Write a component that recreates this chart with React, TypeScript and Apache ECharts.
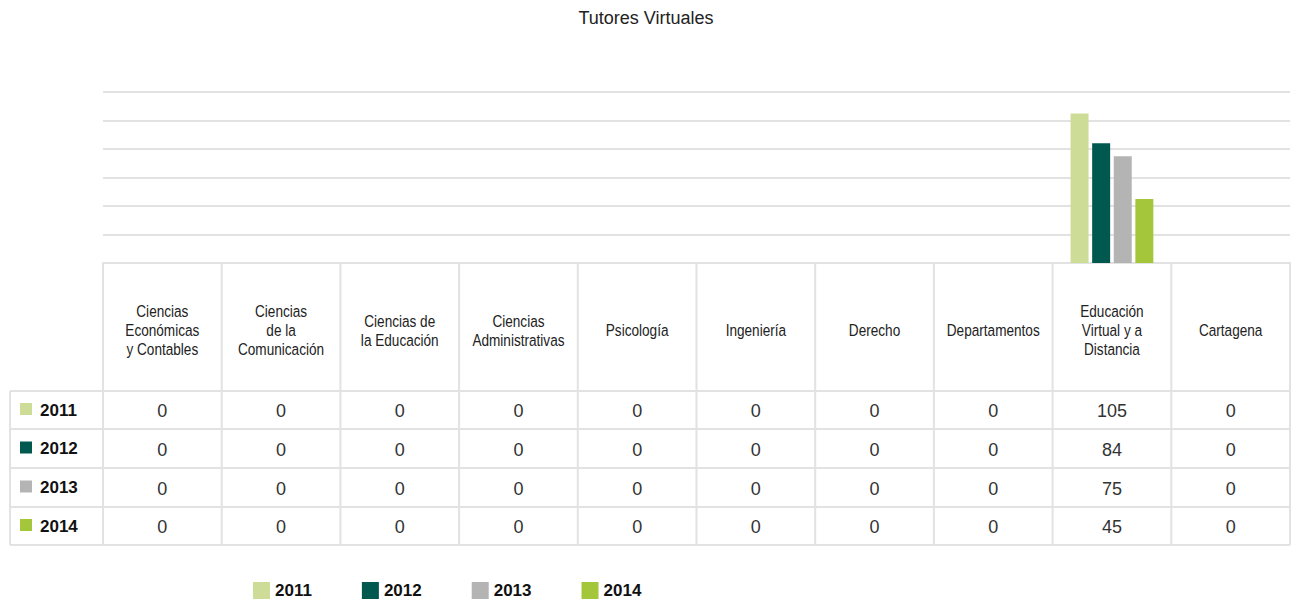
import React, { useEffect, useRef } from "react";
import * as echarts from "echarts";

const title = "Tutores Virtuales";
const categories = [
  "Ciencias\nEconómicas\ny Contables",
  "Ciencias\nde la\nComunicación",
  "Ciencias de\nla Educación",
  "Ciencias\nAdministrativas",
  "Psicología",
  "Ingeniería",
  "Derecho",
  "Departamentos",
  "Educación\nVirtual y a\nDistancia",
  "Cartagena",
];
const years = ["2011", "2012", "2013", "2014"];
const values2011 = [0, 0, 0, 0, 0, 0, 0, 0, 105, 0];
const values2012 = [0, 0, 0, 0, 0, 0, 0, 0, 84, 0];
const values2013 = [0, 0, 0, 0, 0, 0, 0, 0, 75, 0];
const values2014 = [0, 0, 0, 0, 0, 0, 0, 0, 45, 0];
const seriesValues = [values2011, values2012, values2013, values2014];
const colors = ["#cddd98", "#00584f", "#b4b4b4", "#a3c63a"];
const yMax = 120;
const yInterval = 20;

const W = 1292;
const H = 603;
const GRID_LEFT = 103;
const GRID_RIGHT = 1290;
const GRID_TOP = 92;
const AXIS_Y = 263;
const ROW_LINES = [391, 429, 468, 507, 545];
const LINE_COLOR = "#e2e2e2";
const FONT = "'Liberation Sans', Arial, sans-serif";

export default function App() {
  const ref = useRef<HTMLDivElement>(null);
  useEffect(() => {
    if (!ref.current) return;
    const chart = echarts.init(ref.current, null, { renderer: "svg" });
    const colW = (GRID_RIGHT - GRID_LEFT) / categories.length;
    const graphics: any[] = [];
    for (let i = 0; i <= categories.length; i++) {
      const x = GRID_LEFT + i * colW;
      graphics.push({
        type: "line",
        shape: { x1: x, y1: AXIS_Y, x2: x, y2: ROW_LINES[ROW_LINES.length - 1] },
        style: { stroke: LINE_COLOR, lineWidth: 2 },
      });
    }
    categories.forEach((name, c) => {
      graphics.push({
        type: "text",
        x: GRID_LEFT + (c + 0.5) * colW,
        y: (AXIS_Y + ROW_LINES[0]) / 2 + 3,
        scaleX: 0.8,
        style: {
          text: name,
          fill: "#222",
          font: `17px ${FONT}`,
          lineHeight: 19,
          align: "center",
          verticalAlign: "middle",
        },
      });
    });
    graphics.push({
      type: "line",
      shape: { x1: 10, y1: ROW_LINES[0], x2: 10, y2: ROW_LINES[ROW_LINES.length - 1] },
      style: { stroke: LINE_COLOR, lineWidth: 2 },
    });
    ROW_LINES.forEach((y) => {
      graphics.push({
        type: "line",
        shape: { x1: 10, y1: y, x2: GRID_RIGHT, y2: y },
        style: { stroke: LINE_COLOR, lineWidth: 2 },
      });
    });
    years.forEach((yr, r) => {
      const cy = (ROW_LINES[r] + ROW_LINES[r + 1]) / 2;
      graphics.push({
        type: "rect",
        shape: { x: 20, y: cy - 7, width: 12, height: 12 },
        style: { fill: colors[r] },
      });
      graphics.push({
        type: "text",
        x: 40,
        y: cy,
        style: {
          text: yr,
          fill: "#111",
          font: `bold 17px ${FONT}`,
          verticalAlign: "middle",
          align: "left",
        },
      });
      seriesValues[r].forEach((v, c) => {
        graphics.push({
          type: "text",
          x: GRID_LEFT + (c + 0.5) * colW,
          y: cy + 1,
          style: {
            text: String(v),
            fill: "#333",
            font: `18px ${FONT}`,
            align: "center",
            verticalAlign: "middle",
          },
        });
      });
    });

    chart.setOption({
      animation: false,
      title: {
        text: title,
        left: "center",
        top: 4,
        textStyle: { fontSize: 18, fontWeight: "normal", color: "#222", fontFamily: FONT },
      },
      legend: {
        data: years,
        left: 253,
        top: 582,
        padding: 0,
        icon: "rect",
        itemWidth: 17,
        itemHeight: 17,
        itemGap: 50,
        textStyle: { fontSize: 17, fontWeight: "bold", color: "#111", fontFamily: FONT },
      },
      grid: {
        left: GRID_LEFT,
        right: W - GRID_RIGHT,
        top: GRID_TOP,
        bottom: H - AXIS_Y,
        containLabel: false,
      },
      xAxis: {
        type: "category",
        data: categories,
        axisLine: { show: true, lineStyle: { color: LINE_COLOR, width: 2 } },
        axisTick: { show: false },
        axisLabel: { show: false },
      },
      yAxis: {
        type: "value",
        min: 0,
        max: yMax,
        interval: yInterval,
        axisLabel: { show: false },
        axisLine: { show: false },
        axisTick: { show: false },
        splitLine: { lineStyle: { color: LINE_COLOR, width: 2 } },
      },
      series: years.map((yr, i) => ({
        name: yr,
        type: "bar",
        data: seriesValues[i],
        barWidth: 18,
        barGap: "20%",
        itemStyle: { color: colors[i] },
      })),
      graphic: graphics,
    });
    return () => chart.dispose();
  }, []);
  return (
    <div
      ref={ref}
      style={{ position: "fixed", left: 0, top: 0, width: W, height: H, background: "#fff" }}
    />
  );
}
